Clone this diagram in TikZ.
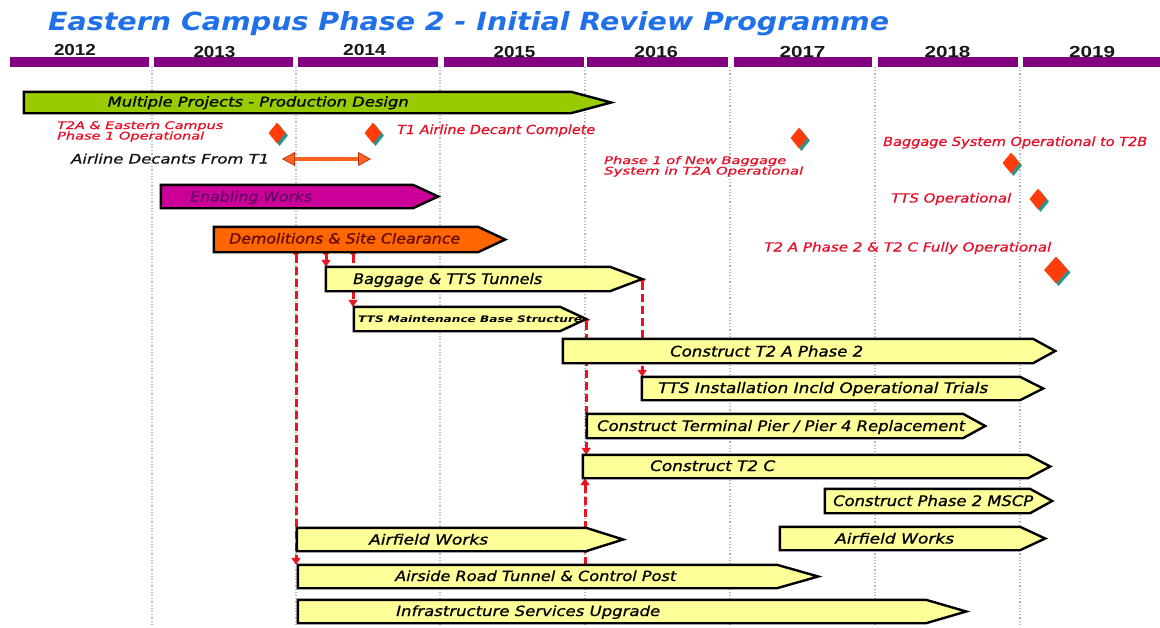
\documentclass[tikz,border=0pt]{standalone}
\usepackage{fontspec}
\usepackage{graphicx}
\usetikzlibrary{arrows.meta,shapes.geometric,shadows,fit}
\newfontfamily\comicf{DejaVu Sans}[ItalicFont={DejaVu Sans Oblique},ItalicFeatures={FakeBold=0.8},BoldFont={DejaVu Sans Bold},BoldItalicFont={DejaVu Sans Bold Oblique}]
\newfontfamily\yearf{Liberation Sans}
\definecolor{titleBlue}{RGB}{32,112,232}
\definecolor{yearPurple}{RGB}{128,0,128}
\definecolor{gridGray}{RGB}{185,185,185}
\definecolor{barGreen}{RGB}{153,204,0}
\definecolor{barMagenta}{RGB}{204,0,153}
\definecolor{barOrange}{RGB}{255,102,0}
\definecolor{barYellow}{RGB}{255,255,153}
\definecolor{msRed}{RGB}{255,60,10}
\definecolor{msTeal}{RGB}{40,150,140}
\definecolor{msText}{RGB}{228,16,40}
\definecolor{connRed}{RGB}{235,20,30}
\definecolor{arrOrange}{RGB}{255,100,30}
\definecolor{arrDark}{RGB}{190,50,20}
\definecolor{enabText}{RGB}{100,0,100}
\definecolor{demoText}{RGB}{100,10,0}
\pgfdeclarelayer{bg}
\pgfsetlayers{bg,main}
\newcommand\fitx[2]{\resizebox{#1}{\height}{#2}}
% name, left, body end, tip, top, bottom, fill
\newcommand\ganttbar[7]{%
  \path (#2,#5) coordinate (#1-a) (#4,#6) coordinate (#1-b);
  \node[fit=(#1-a)(#1-b), inner sep=0pt] (#1) {};
  \draw[barline, fill=#7] (#1.north west) -- (#3,0 |- #1.north) -- (#1.east)
     -- (#3,0 |- #1.south) -- (#1.south west) -- cycle;
}
\begin{document}
\begin{tikzpicture}[x=1pt,y=-1pt,
  barline/.style={draw=black, line width=2.4pt, line join=miter},
  gridline/.style={draw=gridGray, line width=1.2pt, dash pattern=on 1.2pt off 2pt},
  bt/.style={inner sep=0pt, anchor=base west, font=\comicf\itshape\fontsize{14.5pt}{14.5pt}\selectfont},
  bts/.style={bt, font=\comicf\itshape\fontsize{14pt}{14pt}\selectfont},
  mt/.style={bt, text=msText, font=\comicf\itshape\fontsize{12.5pt}{12.5pt}\selectfont},
  mts/.style={bt, text=msText, font=\comicf\itshape\fontsize{10.5pt}{10.5pt}\selectfont},
  yt/.style={inner sep=0pt, anchor=base, text={rgb,255:red,25;green,25;blue,25}, font=\yearf\bfseries\fontsize{16pt}{16pt}\selectfont},
  ms/.style={diamond, fill=msRed, inner sep=0pt, minimum width=17pt, minimum height=21pt,
     drop shadow={shadow xshift=2.5pt, shadow yshift=-2.5pt, fill=msTeal, opacity=1}},
  conn/.style={draw=connRed, line width=3pt, dash pattern=on 8pt off 4pt,
     {Triangle[reversed,width=8pt,length=4pt]}-{Triangle[width=9pt,length=7pt]}},
  connup/.style={draw=connRed, line width=3pt, dash pattern=on 8pt off 4pt,
     -{Triangle[width=9pt,length=7pt]}},
  decant/.style={draw=arrOrange, line width=4.5pt,
     {Triangle[width=14pt,length=13pt,line width=0.8pt,color=arrDark,fill=arrOrange]}-{Triangle[width=14pt,length=13pt,line width=0.8pt,color=arrDark,fill=arrOrange]}}
]
\useasboundingbox (0,0) rectangle (1160,627);

% background and grid
\begin{pgfonlayer}{bg}
\fill[white] (0,0) rectangle (1160,627);
\foreach \x in {152,296,440,585,730,875,1020} \draw[gridline] (\x,67) -- (\x,627);
\end{pgfonlayer}

% title
\node[inner sep=0pt, anchor=base west, text=titleBlue, font=\comicf\bfseries\itshape\fontsize{25pt}{25pt}\selectfont] (title) at (48,30) {\fitx{841pt}{Eastern Campus Phase 2 - Initial Review Programme}};

% year band
\foreach \a/\b in {9.6/148.5, 154/293, 298/438, 444/583.6, 587/728, 733.5/871.5, 878/1018, 1023/1160}
  \fill[yearPurple] (\a,57) rectangle (\b,67);
\node[yt] (y2012) at (75,55) {\fitx{42pt}{2012}};
\node[yt] (y2013) at (214.5,57) {\fitx{42pt}{2013}};
\node[yt] (y2014) at (364.5,55) {\fitx{43pt}{2014}};
\node[yt] (y2015) at (514.5,57) {\fitx{42pt}{2015}};
\node[yt] (y2016) at (656,57) {\fitx{44pt}{2016}};
\node[yt] (y2017) at (802.5,57) {\fitx{46pt}{2017}};
\node[yt] (y2018) at (947.5,57) {\fitx{46pt}{2018}};
\node[yt] (y2019) at (1092,57) {\fitx{46pt}{2019}};

% bars
\ganttbar{mpd}{24}{571}{611}{92}{113}{barGreen}
\ganttbar{enab}{161}{413}{438}{185}{208}{barMagenta}
\ganttbar{demo}{214}{478}{505}{227}{252}{barOrange}
\ganttbar{bag}{326}{610}{642}{267}{291}{barYellow}
\ganttbar{tmb}{354}{560}{586}{307}{331}{barYellow}
\ganttbar{tta}{563}{1033}{1055}{339}{363}{barYellow}
\ganttbar{ttsi}{642}{1020}{1043}{377}{400}{barYellow}
\ganttbar{pier}{587}{963}{985}{414}{438}{barYellow}
\ganttbar{ttc}{583}{1028}{1050}{455}{478}{barYellow}
\ganttbar{mscp}{825}{1030}{1052}{489}{513}{barYellow}
\ganttbar{afwa}{297}{586}{623}{528}{551}{barYellow}
\ganttbar{afwb}{780}{1020}{1045}{527}{550}{barYellow}
\ganttbar{ars}{298}{777}{818}{565}{588}{barYellow}
\ganttbar{isu}{298}{926}{966}{600}{623}{barYellow}

% bar labels
\node[bt, font=\comicf\itshape\fontsize{13.5pt}{13.5pt}\selectfont] (mpd-t) at (107.5,106.5) {\fitx{301pt}{Multiple Projects - Production Design}};
\node[bts, text=enabText] (enab-t) at (190,201.5) {\fitx{122pt}{Enabling Works}};
\node[bts, text=demoText] (demo-t) at (229,243.5) {\fitx{231pt}{Demolitions \& Site Clearance}};
\node[bt] (bag-t) at (353,284) {\fitx{189pt}{Baggage \& TTS Tunnels}};
\node[bt, font=\comicf\bfseries\itshape\fontsize{9pt}{9pt}\selectfont] (tmb-t) at (358,322.5) {\fitx{224pt}{TTS Maintenance Base Structure}};
\node[bt] (tta-t) at (670,356.5) {\fitx{193pt}{Construct T2 A Phase 2}};
\node[bt] (ttsi-t) at (658,393) {\fitx{330pt}{TTS Installation Incld Operational Trials}};
\node[bt] (pier-t) at (597,431) {\fitx{368pt}{Construct Terminal Pier / Pier 4 Replacement}};
\node[bt] (ttc-t) at (650,471) {\fitx{125pt}{Construct T2 C}};
\node[bt] (mscp-t) at (833,506) {\fitx{200pt}{Construct Phase 2 MSCP}};
\node[bts] (afwa-t) at (369,544.5) {\fitx{119pt}{Airfield Works}};
\node[bts] (afwb-t) at (835,543.5) {\fitx{119pt}{Airfield Works}};
\node[bts] (ars-t) at (395,581) {\fitx{281pt}{Airside Road Tunnel \& Control Post}};
\node[bts] (isu-t) at (396,616) {\fitx{264pt}{Infrastructure Services Upgrade}};

% connectors
\begin{pgfonlayer}{bg}
\draw[conn] (296,0 |- demo.south) -- (296,0 |- ars.north);
\draw[conn] (326,0 |- demo.south) -- (326,0 |- bag.north);
\draw[conn] (353,0 |- demo.south) -- (353,0 |- tmb.north);
\draw[conn] (bag.east) -- (bag.east |- ttsi.north);
\draw[conn] (tmb.east) -- (tmb.east |- ttc.north);
\draw[connup] (585,0 |- ars.north) -- (585,0 |- ttc.south);
\end{pgfonlayer}

% milestones
\node[ms] (ms1) at (277,133) {};
\node[ms] (ms2) at (373,133) {};
\node[ms] (ms3) at (799,138) {};
\node[ms] (ms4) at (1011,163) {};
\node[ms] (ms5) at (1038,199) {};
\node[ms, minimum width=24pt, minimum height=27pt] (ms6) at (1056,270) {};

\node[mts] (ms1-ta) at (57,129) {\fitx{166pt}{T2A \& Eastern Campus}};
\node[mts] (ms1-tb) at (57,139.5) {\fitx{147pt}{Phase 1 Operational}};
\node[mt] (ms2-t) at (397,134) {\fitx{198pt}{T1 Airline Decant Complete}};
\node[mts] (ms3-ta) at (604,164) {\fitx{182pt}{Phase 1 of New Baggage}};
\node[mts] (ms3-tb) at (604,174.5) {\fitx{199pt}{System in T2A Operational}};
\node[mt] (ms4-t) at (883,146) {\fitx{264pt}{Baggage System Operational to T2B}};
\node[mt] (ms5-t) at (891,202.5) {\fitx{120pt}{TTS Operational}};
\node[mt] (ms6-t) at (764,251.5) {\fitx{287pt}{T2 A Phase 2 \& T2 C Fully Operational}};

% airline decants
\node[bt, text={rgb,255:red,20;green,20;blue,20}, font=\comicf\itshape\fontsize{13pt}{13pt}\selectfont] (dec-t) at (71,163.5) {\fitx{198pt}{Airline Decants From T1}};
\coordinate (dA) at (282,159);
\coordinate (dB) at (371,159);
\draw[decant] (dA) -- (dB);
\end{tikzpicture}
\end{document}
